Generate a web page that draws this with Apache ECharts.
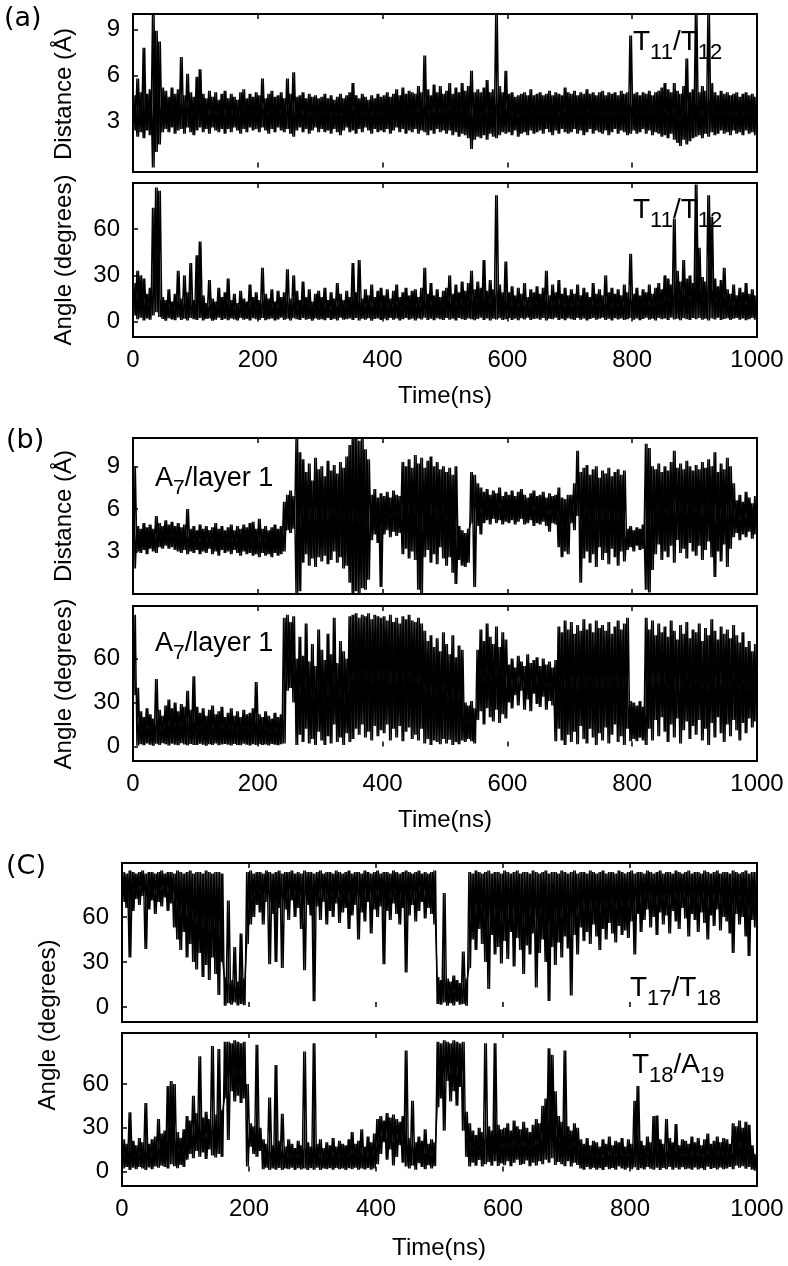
<!DOCTYPE html>
<html>
<head>
<meta charset="utf-8">
<script src="https://cdn.jsdelivr.net/npm/echarts@6/dist/echarts.min.js"></script>
<style>
  html, body { margin: 0; padding: 0; background: #fff; }
  #chart { width: 788px; height: 1266px; }
</style>
</head>
<body>
<div id="chart"></div>
<script>
// each series is stored as a low / high envelope per 5 ns bin
const BIN = 5;
const timeTicks = [0, 200, 400, 600, 800, 1000];
const distTicks = [3, 6, 9];
const angleTicks = [0, 30, 60];

// (a) T11/T12 distance
const a1Hi = [
  4.7, 5.8, 4.9, 7.8, 4.8, 5.1, 10, 8.9, 8.2, 5.2,
  5.0, 4.6, 5.2, 4.8, 5.1, 7.2, 4.7, 6.1, 4.9, 4.6,
  5.9, 6.4, 4.8, 4.5, 5.0, 4.6, 4.9, 4.4, 4.8, 5.0,
  4.5, 4.8, 4.6, 4.4, 4.9, 5.1, 4.5, 4.8, 4.6, 4.9,
  4.7, 5.8, 4.5, 4.8, 5.0, 4.6, 4.7, 4.9, 4.5, 5.8,
  4.8, 6.2, 4.6, 4.7, 4.9, 4.5, 4.8, 4.6, 4.7, 4.5,
  4.6, 4.8, 4.5, 4.7, 4.4, 4.6, 4.8, 4.5, 4.7, 4.9,
  5.5, 4.7, 4.5, 4.8, 4.6, 4.4, 4.7, 4.5, 4.8, 4.6,
  4.7, 4.9, 4.6, 4.8, 5.1, 4.7, 5.2, 4.8, 5.0, 4.9,
  4.8, 5.3, 4.9, 7.3, 5.1, 4.7, 5.4, 4.9, 5.3, 4.8,
  5.0, 5.5, 4.8, 5.2, 4.9, 5.5, 5.0, 5.3, 6.3, 4.9,
  5.1, 4.9, 5.2, 5.7, 4.9, 5.1, 10, 5.3, 4.9, 6.3,
  4.8, 4.9, 4.6, 4.7, 4.8, 4.9, 4.7, 5.1, 4.7, 4.8,
  4.9, 4.7, 4.8, 5.0, 4.7, 4.9, 4.8, 4.7, 5.2, 4.9,
  4.8, 5.0, 4.7, 4.9, 4.8, 5.1, 4.8, 4.9, 4.7, 4.9,
  5.0, 4.7, 4.9, 4.8, 4.9, 4.7, 5.0, 4.8, 4.9, 8.6,
  4.8, 4.9, 4.7, 4.9, 4.8, 5.0, 4.7, 4.9, 5.0, 5.2,
  5.5, 5.1, 4.9, 5.5, 5.0, 4.8, 5.3, 7.1, 4.9, 5.1,
  10, 4.9, 5.3, 5.0, 10, 5.5, 4.9, 4.7, 5.0, 4.8,
  4.9, 4.7, 4.8, 4.9, 4.6, 4.8, 4.9, 4.7, 4.8, 4.6
];
const a1Lo = [
  2.4, 2.0, 2.3, 1.9, 2.4, 2.1, 0, 1.0, 1.5, 2.3,
  2.5, 2.3, 2.6, 2.2, 2.4, 2.5, 2.2, 2.6, 2.3, 2.1,
  2.4, 2.6, 2.3, 2.5, 2.2, 2.6, 2.4, 2.3, 2.5, 2.2,
  2.5, 2.3, 2.6, 2.4, 2.2, 2.5, 2.3, 2.6, 2.4, 2.5,
  2.3, 2.6, 2.4, 2.2, 2.5, 2.3, 2.6, 2.4, 2.3, 2.5,
  2.2, 2.0, 2.4, 2.6, 2.3, 2.5, 2.2, 2.4, 2.6, 2.3,
  2.5, 2.3, 2.4, 2.2, 2.5, 2.3, 2.1, 2.4, 2.6, 2.3,
  2.4, 2.2, 2.5, 2.3, 2.6, 2.4, 2.2, 2.5, 2.3, 2.4,
  2.3, 2.5, 2.2, 2.4, 2.6, 2.3, 2.5, 2.2, 2.4, 2.3,
  2.5, 2.2, 2.4, 2.3, 2.1, 2.4, 2.2, 2.5, 2.3, 2.4,
  2.2, 2.4, 2.1, 2.3, 2.0, 2.2, 2.1, 1.9, 1.2, 1.8,
  2.0, 1.9, 2.1, 1.8, 2.2, 2.0, 1.9, 2.1, 2.3, 2.2,
  2.3, 2.1, 2.4, 2.0, 2.2, 2.3, 2.1, 2.4, 2.2, 2.3,
  2.4, 2.2, 2.5, 2.3, 2.1, 2.4, 2.2, 2.5, 2.3, 2.2,
  2.3, 2.5, 2.2, 2.4, 2.1, 2.3, 2.5, 2.2, 2.4, 2.3,
  2.2, 2.4, 2.1, 2.3, 2.5, 2.2, 2.4, 2.3, 2.1, 2.2,
  2.4, 2.2, 2.3, 2.5, 2.2, 2.4, 2.1, 2.3, 2.2, 2.0,
  2.1, 1.9, 2.2, 1.8, 1.6, 1.4, 1.8, 1.5, 1.7, 1.9,
  2.0, 2.1, 1.9, 2.2, 2.0, 2.3, 2.1, 2.2, 2.4, 2.2,
  2.3, 2.1, 2.4, 2.2, 2.3, 2.1, 2.4, 2.2, 2.3, 2.1
];

// (a) T11/T12 angle
const a2Hi = [
  25, 33, 30, 28, 18, 22, 74, 87, 85, 16,
  14, 21, 13, 18, 33, 15, 30, 19, 38, 14,
  43, 52, 17, 12, 27, 15, 13, 22, 16, 19,
  28, 14, 18, 12, 20, 15, 13, 24, 16, 19,
  14, 35, 18, 15, 21, 13, 20, 16, 19, 34,
  15, 30, 20, 14, 26, 16, 21, 13, 18, 20,
  16, 22, 14, 19, 15, 25, 18, 14, 20, 16,
  38, 19, 40, 15, 21, 17, 24, 16, 20, 22,
  17, 21, 15, 20, 24, 16, 19, 22, 17, 20,
  21, 16, 22, 35, 18, 25, 17, 21, 16, 20,
  22, 30, 18, 24, 19, 26, 20, 25, 33, 21,
  26, 22, 40, 20, 27, 21, 82, 24, 19, 39,
  19, 23, 17, 22, 18, 25, 16, 21, 19, 23,
  18, 22, 33, 17, 24, 19, 27, 18, 22, 17,
  21, 18, 24, 17, 22, 19, 16, 25, 18, 21,
  17, 30, 19, 22, 18, 21, 17, 24, 19, 44,
  18, 22, 17, 21, 19, 24, 18, 22, 25, 21,
  30, 28, 24, 67, 33, 26, 40, 28, 30, 25,
  89, 48, 29, 26, 82, 68, 28, 23, 27, 35,
  21, 18, 24, 17, 22, 19, 25, 18, 21, 17
];
const a2Lo = [
  4, 1.5, 2.5, 0.8, 2, 1.2, 4, 6, 3, 1.8,
  0.6, 2.2, 1.4, 0.9, 2.6, 1.1, 1.9, 0.7, 2.3, 1.5,
  1, 2.4, 0.8, 1.7, 2.1, 0.6, 1.3, 2.5, 1.1, 1.8,
  0.9, 2, 1.4, 0.7, 2.3, 1.2, 1.8, 0.8, 2.2, 1.5,
  1.1, 2.4, 0.9, 1.6, 2.1, 0.7, 1.4, 2.5, 1, 1.9,
  0.8, 2.2, 1.5, 1, 2.4, 1.2, 1.7, 0.6, 2, 1.3,
  1.6, 0.9, 2.3, 1.1, 1.8, 0.7, 2.5, 1.2, 1.5, 2,
  1, 2.4, 0.8, 1.9, 1.3, 2.2, 0.6, 1.7, 2.1, 1.1,
  1.8, 0.9, 2.4, 1.3, 2, 0.8, 1.6, 2.3, 1.2, 1.9,
  0.7, 2.1, 1.4, 2.5, 1, 1.8, 0.9, 2.2, 1.5, 1.1,
  2.3, 1.2, 1.9, 0.8, 2.4, 1.5, 1, 2.1, 1.6, 0.9,
  1.7, 2.5, 1.1, 2, 0.8, 1.9, 1.3, 2.2, 1, 1.6,
  2.4, 1.1, 1.8, 0.9, 2.2, 1.4, 2.6, 1, 1.7, 2.1,
  1.2, 2.3, 0.8, 1.9, 1.5, 2.5, 1.1, 1.8, 0.9, 2.2,
  1.6, 1, 2.4, 1.3, 2, 0.8, 1.7, 2.3, 1.2, 1.9,
  2.5, 1.1, 1.8, 0.7, 2.2, 1.4, 2, 1, 1.6, 2.4,
  1.3, 2.1, 0.9, 1.7, 2.5, 1.2, 1.9, 0.8, 2.3, 1.5,
  2, 1.1, 2.6, 1.4, 1.8, 0.9, 2.2, 1.6, 1, 2.4,
  1.5, 2.3, 1.2, 1.9, 0.8, 2.1, 1.4, 2.5, 1.1, 1.7,
  2.2, 1, 1.8, 2.4, 1.3, 2, 0.9, 1.6, 2.3, 1.2
];

// (b) A7/layer 1 distance
const b1Hi = [
  9.0, 4.8, 4.6, 5.0, 4.7, 4.9, 4.6, 5.5, 5.0, 4.8,
  5.2, 4.9, 5.1, 4.8, 5.0, 4.7, 4.9, 6.0, 4.6, 4.8,
  4.5, 4.9, 4.6, 4.8, 4.5, 4.7, 5.0, 4.6, 4.8, 4.5,
  4.7, 4.9, 4.5, 4.8, 4.6, 4.9, 4.7, 5.0, 5.1, 4.6,
  5.3, 4.6, 4.8, 4.5, 4.7, 4.9, 4.6, 4.8, 6.5, 7.0,
  7.3, 6.9, 11, 10, 9.5, 8.6, 9.2, 8.0, 9.6, 8.8,
  9.0, 8.3, 9.4, 8.7, 9.1, 8.5, 9.3, 8.9, 9.7, 10.5,
  11, 11, 10.8, 11, 10.2, 9.5, 7.0, 7.4, 6.8, 7.1,
  6.9, 7.2, 6.8, 7.3, 7.0, 6.9, 9.3, 9.0, 9.5, 8.9,
  9.8, 9.2, 9.6, 8.9, 9.4, 9.7, 9.0, 9.3, 8.8, 9.0,
  8.6, 8.9, 8.4, 9.0, 4.8, 4.5, 4.3, 4.6, 8.6, 8.4,
  7.8, 7.5, 7.2, 7.4, 7.0, 7.3, 7.1, 7.5, 6.9, 7.2,
  7.0, 7.3, 6.9, 7.2, 7.4, 7.0, 6.8, 7.1, 7.3, 6.9,
  7.0, 7.2, 6.8, 7.1, 6.9, 7.0, 7.5, 6.8, 6.7, 7.0,
  7.0, 7.8, 10.1, 8.6, 8.9, 9.1, 8.4, 8.8, 9.0, 8.2,
  8.7, 8.5, 8.9, 8.3, 8.6, 8.8, 8.4, 8.7, 4.6, 4.8,
  4.5, 4.7, 4.6, 4.9, 10.6, 10.3, 9.0, 8.8, 9.2, 8.6,
  9.0, 8.7, 9.3, 10.1, 8.9, 9.2, 8.8, 9.4, 9.0, 8.7,
  9.1, 8.8, 9.3, 8.9, 9.5, 9.0, 10.0, 8.6, 9.2, 8.8,
  9.6, 9.0, 7.8, 6.6, 7.0, 6.5, 7.2, 6.8, 6.4, 6.9
];
const b1Lo = [
  1.8, 3.0, 2.9, 3.1, 2.8, 3.2, 3.0, 2.9, 3.3, 3.2,
  3.4, 3.2, 3.3, 3.1, 3.0, 2.9, 3.1, 2.8, 3.0, 2.9,
  3.1, 2.8, 3.0, 2.9, 3.2, 2.8, 3.0, 2.7, 3.1, 2.9,
  3.0, 2.8, 3.1, 2.9, 2.7, 3.0, 2.8, 2.9, 2.7, 2.8,
  2.6, 2.9, 2.7, 2.8, 2.6, 2.9, 2.7, 2.8, 3.0, 4.5,
  4.3, 4.6, 0, 0.2, 2.2, 2.8, 2.0, 2.5, 1.9, 2.6,
  2.3, 2.7, 2.1, 2.4, 3.0, 2.2, 2.6, 1.8, 2.0, 0.8,
  0, 0.2, 0, 0.4, 0.3, 1.0, 3.8, 4.2, 3.6, 0.5,
  4.2, 4.5, 4.0, 4.4, 4.1, 4.3, 2.8, 3.2, 2.5, 3.0,
  2.4, 0.3, 0, 2.6, 3.1, 2.2, 2.8, 2.1, 3.3, 2.5,
  2.0, 2.6, 1.5, 0.7, 2.4, 2.0, 1.9, 2.2, 5.0, 0.5,
  4.8, 4.2, 5.0, 5.2, 4.9, 5.3, 5.0, 5.2, 4.9, 5.1,
  5.0, 5.2, 4.9, 5.1, 5.3, 4.9, 5.0, 5.2, 4.8, 5.0,
  4.9, 5.1, 4.8, 4.4, 5.0, 4.9, 3.3, 2.6, 3.0, 2.8,
  5.0, 4.5, 5.5, 0.8, 2.5, 3.0, 2.2, 2.8, 1.9, 3.3,
  2.4, 2.9, 2.1, 3.2, 2.6, 2.0, 3.0, 2.3, 3.1, 3.3,
  3.0, 3.4, 3.1, 3.2, 0.3, 0.1, 1.7, 2.8, 3.5, 2.4,
  3.0, 2.6, 3.4, 2.2, 3.8, 2.9, 3.2, 2.5, 3.6, 3.0,
  2.7, 3.4, 2.4, 3.1, 3.7, 2.6, 1.2, 3.0, 2.3, 3.5,
  1.9, 3.2, 4.0, 4.3, 3.8, 4.2, 4.0, 4.4, 3.9, 4.2
];

// (b) A7/layer 1 angle
const b2Hi = [
  90, 40, 24, 20, 26, 22, 19, 46, 25, 21,
  28, 32, 26, 30, 24, 29, 27, 38, 25, 48,
  27, 23, 26, 21, 25, 28, 22, 24, 27, 20,
  23, 26, 21, 24, 20, 25, 22, 23, 26, 44,
  22, 20, 24, 21, 19, 23, 20, 22, 88, 90,
  85, 89, 60, 75, 62, 84, 58, 70, 55, 80,
  66, 59, 77, 63, 88, 57, 72, 65, 60, 89,
  90, 91, 88, 90, 89, 91, 87, 90, 89, 88,
  89, 86, 90, 85, 88, 84, 89, 87, 90, 86,
  85, 88, 84, 79, 72, 76, 68, 74, 65, 78,
  70, 63, 76, 61, 69, 66, 30, 28, 31, 26,
  66, 80, 72, 84, 75, 70, 82, 68, 78, 73,
  56, 60, 54, 62, 58, 55, 63, 57, 59, 61,
  55, 60, 56, 58, 54, 59, 82, 78, 86, 80,
  85, 77, 83, 79, 87, 80, 84, 78, 86, 81,
  83, 79, 85, 77, 82, 86, 80, 84, 88, 31,
  30, 28, 31, 27, 88, 80, 86, 76, 84, 78,
  82, 75, 86, 79, 73, 83, 77, 85, 74, 80,
  78, 84, 72, 81, 76, 87, 79, 73, 82, 77,
  80, 74, 83, 76, 71, 78, 68, 72, 65, 70
];
const b2Lo = [
  35, 0.5, 1.5, 0.8, 2.0, 1.2, 0.5, 1.8, 1.0, 2.2,
  1.4, 0.6, 1.9, 1.1, 0.8, 2.1, 1.3, 0.7, 1.6, 1.0,
  0.9, 1.8, 1.2, 0.5, 1.5, 1.0, 2.0, 0.8, 1.3, 1.7,
  1.1, 0.6, 1.6, 1.0, 0.8, 1.9, 1.2, 0.7, 1.4, 1.0,
  1.5, 0.9, 1.3, 0.6, 1.7, 1.1, 0.8, 1.4, 2.0, 38,
  40, 30, 1, 8, 3, 12, 2, 5, 1, 10,
  4, 1, 7, 2, 15, 3, 6, 1, 9, 3,
  5, 12, 8, 15, 6, 10, 4, 14, 7, 11,
  9, 15, 4, 12, 6, 14, 3.5, 10, 13, 5,
  8, 4, 12, 2, 5, 1, 4, 3, 1.5, 5,
  2, 4.5, 1, 3, 1.5, 4, 3, 5, 3.5, 2,
  18, 24, 15, 26, 20, 17, 25, 16, 22, 19,
  30, 26, 35, 28, 38, 25, 32, 24, 36, 29,
  27, 34, 25, 31, 28, 3.5, 12, 4, 1, 8,
  3, 10, 1.5, 14, 5, 2, 12, 6, 1, 9,
  4, 13, 2, 8, 15, 3, 7, 1, 12, 3.5,
  5, 3.5, 6, 4, 1, 12, 4, 18, 7, 20,
  10, 3, 15, 6, 19, 2, 11, 17, 5, 14,
  8, 18, 4, 12, 1, 16, 6, 20, 9, 3,
  15, 7, 18, 11, 4, 16, 9, 19, 13, 17
];

// (C) T17/T18 angle
const c1Hi = [
  90, 89, 91, 90, 89, 90, 91, 89, 90, 90,
  89, 90, 91, 89, 90, 90, 89, 91, 90, 89,
  90, 91, 89, 90, 90, 89, 91, 90, 89, 90,
  90, 89, 20, 71, 18, 40, 17, 49, 19, 90,
  91, 89, 90, 90, 89, 91, 90, 89, 90, 91,
  89, 90, 90, 91, 89, 90, 89, 91, 90, 90,
  89, 90, 91, 89, 90, 90, 89, 91, 90, 89,
  90, 91, 89, 90, 90, 89, 91, 90, 89, 90,
  91, 89, 90, 90, 89, 91, 90, 89, 90, 91,
  90, 89, 90, 91, 89, 90, 89, 90, 91, 20,
  18, 76, 19, 17, 21, 18, 16, 37, 19, 90,
  89, 91, 90, 89, 90, 91, 89, 90, 90, 89,
  91, 90, 89, 90, 91, 89, 90, 90, 89, 91,
  90, 89, 90, 91, 89, 90, 90, 89, 91, 90,
  89, 90, 91, 89, 90, 90, 89, 91, 90, 89,
  90, 91, 89, 90, 90, 89, 91, 90, 89, 90,
  91, 89, 90, 90, 89, 91, 90, 89, 90, 91,
  89, 90, 90, 89, 91, 90, 89, 90, 91, 89,
  90, 90, 89, 91, 90, 89, 90, 91, 89, 90,
  90, 89, 91, 90, 89, 90, 91, 89, 90, 90
];
const c1Lo = [
  70, 66, 33, 64, 72, 68, 74, 38.6, 65, 71,
  62, 70, 67, 73, 64, 69, 53, 45, 38, 50,
  33, 42, 30, 25, 36, 20, 28, 18, 33, 22,
  8, 30, 0.8, 2.5, 1.5, 3, 1, 2, 1.2, 42,
  55, 60, 68, 63, 55, 70, 28.5, 62, 30, 66,
  26, 65, 58, 71, 60, 66, 52, 24.5, 68, 61,
  3.8, 67, 58, 70, 55, 64, 60, 69, 56, 63,
  66, 52, 61, 68, 45, 63, 57, 70, 49, 65,
  60, 67, 28.5, 64, 58, 69, 62, 55, 66, 23,
  61, 68, 57, 64, 70, 59, 66, 62, 55, 2,
  1.5, 3, 0.8, 2.5, 1, 3.5, 1.5, 2, 0.8, 26,
  45, 38, 52, 42, 30, 12, 48, 35, 40, 29,
  44, 32, 50, 27, 46, 38, 22, 41, 35, 49,
  13, 36, 45, 30, 4, 40, 28, 43, 33, 47,
  39, 7.7, 48, 35, 53, 44, 50, 42, 55, 47,
  38, 52, 45, 56, 49, 43, 54, 48, 51, 46,
  57, 35, 62, 50, 58, 65, 53, 60, 48, 63,
  55, 61, 49, 64, 57, 52, 66, 59, 47, 62,
  58, 50, 63, 56, 45, 61, 54, 65, 51, 60,
  57, 49, 36, 62, 55, 60, 47, 34, 58, 53
];

// (C) T18/A19 angle
const c2Hi = [
  22, 19, 40.6, 21, 18, 23, 20, 47, 19, 22,
  24, 36, 26, 28, 58.7, 62, 60, 27, 23, 29,
  38, 35, 52, 40, 79, 37, 41, 36, 86, 39,
  84, 42, 89, 89, 88, 90, 89, 88, 89, 60,
  33, 31, 87, 30, 22, 19, 50.7, 18, 73, 21,
  39.5, 17, 22, 19, 16, 21, 18, 82.3, 20, 17,
  87.9, 19, 22, 16, 20, 18, 23, 17, 21, 19,
  18, 22, 27, 19, 21, 29, 17, 24, 20, 26,
  36, 38, 35, 40, 37, 39, 36, 34, 38, 83,
  23, 48.5, 20, 24, 21, 29, 19, 22, 20, 89,
  88, 90, 89, 88, 90, 89, 88, 89, 41, 33,
  28, 25, 30, 27, 87.9, 31, 28, 87.9, 32, 29,
  30, 33, 28, 35, 31, 29, 34, 30, 27, 32,
  36, 33, 45, 50, 84.6, 80, 55, 38, 34, 83,
  31, 28, 33, 30, 22, 19, 23, 18, 21, 20,
  17, 22, 19, 24, 18, 21, 20, 23, 17, 22,
  19, 48.5, 58.7, 21, 18, 24, 20, 38, 38.4, 22,
  19, 36, 23, 20, 32.6, 18, 22, 21, 19, 24,
  20, 23, 18, 22, 26, 19, 21, 24, 20, 23,
  22, 19, 33, 31, 35, 30, 34, 32, 18, 12
];
const c2Lo = [
  2, 3, 1, 2.5, 1.5, 3, 2, 1, 2.8, 1.6,
  3.4, 2.5, 4, 3, 2, 5, 3.5, 2.2, 4.5, 3,
  8, 12, 9, 14, 10, 13, 8.5, 15, 11, 9.5,
  12, 10, 50, 21.5, 55, 48, 52, 47, 50, 3.4,
  17, 12, 10, 14, 1.5, 2.5, 1, 2, 1.2, 2.4,
  1, 2, 1.5, 2.5, 1.1, 2.2, 1.4, 2, 1, 2.3,
  1.2, 2.5, 1, 2, 1.6, 2.3, 1.1, 2.4, 1.5, 2,
  1, 2.2, 1.5, 2.5, 1.2, 2, 1.4, 2.3, 1.1, 2.1,
  5, 12, 20, 8, 15, 4, 10, 18, 6, 3.4,
  2, 4, 1.1, 5.7, 3, 1.5, 4.2, 2, 3.5, 44,
  50, 28, 62, 48, 55, 45, 58, 28, 10, 3.4,
  6, 4, 7.9, 3.4, 5, 6.5, 4, 7, 3.8, 5.5,
  4.2, 7, 3.5, 6, 8, 4.5, 5.2, 7.5, 3.6, 6,
  4, 7, 5, 8, 6, 9, 4.5, 6.5, 5, 3.6,
  7, 3.4, 6, 4.5, 2, 1.1, 3, 1.5, 2.5, 1.2,
  2.2, 1, 3, 1.6, 2.4, 1.2, 3.4, 2, 1.1, 2.6,
  1.5, 2.8, 1, 2.2, 1.4, 3, 1.8, 1.2, 2.5, 1,
  2.3, 1.5, 3.1, 1.1, 2.6, 1.3, 2.9, 1.6, 2.1, 1.2,
  2.7, 1.4, 2.2, 1, 3.2, 1.7, 2.4, 1.3, 2.8, 1.5,
  2, 3, 1.5, 4, 2.5, 3.5, 1.8, 3, 1.2, 0.5
];

const FONT = '"Liberation Sans", Arial, sans-serif';

// zigzag through each bin's low and high; phase picks low-first or high-first
function trace(lo, hi, phase) {
  const out = [];
  lo.forEach((v, i) => {
    const a = phase ? hi[i] : v;
    const b = phase ? v : hi[i];
    out.push([i * BIN + 1.25, a]);
    out.push([i * BIN + 3.75, b]);
  });
  return out;
}

const panels = [
  { left: 133, top: 14, height: 158, min: -0.3, max: 10, ticks: distTicks, lo: a1Lo, hi: a1Hi, xLabels: false },
  { left: 133, top: 183, height: 154, min: -10, max: 90, ticks: angleTicks, lo: a2Lo, hi: a2Hi, xLabels: true },
  { left: 133, top: 438, height: 156, min: 0, max: 11, ticks: distTicks, lo: b1Lo, hi: b1Hi, xLabels: false },
  { left: 133, top: 606, height: 155, min: -10, max: 96, ticks: angleTicks, lo: b2Lo, hi: b2Hi, xLabels: true },
  { left: 122, top: 863, height: 159, min: -10, max: 96, ticks: angleTicks, lo: c1Lo, hi: c1Hi, xLabels: false },
  { left: 122, top: 1033, height: 153, min: -10, max: 95, ticks: angleTicks, lo: c2Lo, hi: c2Hi, xLabels: true }
];

const tickStyle = { show: true, inside: true, length: 5, lineStyle: { color: '#000', width: 1.5 } };
const labelStyle = { color: '#000', fontFamily: FONT, fontSize: 24 };

const grid = [], xAxis = [], yAxis = [], series = [];
panels.forEach((p, i) => {
  grid.push({
    left: p.left, right: 31, top: p.top, height: p.height,
    show: true, borderColor: '#000', borderWidth: 2, backgroundColor: 'transparent'
  });
  xAxis.push({
    type: 'value', gridIndex: i, min: 0, max: 1000, interval: 200, position: 'bottom',
    axisLine: { show: false }, splitLine: { show: false },
    axisTick: tickStyle,
    axisLabel: Object.assign({
      show: p.xLabels, margin: 11, showMinLabel: true, showMaxLabel: true,
      customValues: timeTicks, formatter: (v) => String(v)
    }, labelStyle)
  });
  xAxis.push({
    type: 'value', gridIndex: i, min: 0, max: 1000, interval: 200, position: 'top',
    axisLine: { show: false }, splitLine: { show: false },
    axisTick: tickStyle, axisLabel: { show: false }
  });
  yAxis.push({
    type: 'value', gridIndex: i, min: p.min, max: p.max,
    axisLine: { show: false }, splitLine: { show: false },
    axisTick: Object.assign({ customValues: p.ticks }, tickStyle),
    axisLabel: Object.assign({ customValues: p.ticks, margin: 13 }, labelStyle)
  });
  [0, 1].forEach((phase) => {
    series.push({
      type: 'line', xAxisIndex: i * 2, yAxisIndex: i,
      data: trace(p.lo, p.hi, phase),
      showSymbol: false, symbol: 'none', silent: true, clip: true,
      lineStyle: { color: '#000', width: 1.4 },
      animation: false
    });
  });
});

// text with subscripts, placed piece by piece
const meas = document.createElement('canvas').getContext('2d');
function subLabel(x, base, parts, size, subSize) {
  const els = [];
  let cx = x;
  parts.forEach(([s, sub]) => {
    const fs = sub ? subSize : size;
    const font = fs + 'px ' + FONT;
    meas.font = font;
    const y = (sub ? base + 8 : base) - 0.33 * fs;
    els.push({ type: 'text', x: cx, y: y, style: { text: s, font: font, fill: '#000', textAlign: 'left', textVerticalAlign: 'middle' } });
    cx += meas.measureText(s).width;
  });
  return els;
}

function plain(x, y, text, size, opts) {
  opts = opts || {};
  return {
    type: 'text', x: x, y: y, rotation: opts.rot || 0,
    style: {
      text: text, font: size + 'px ' + (opts.family || FONT), fill: '#000',
      textAlign: opts.align || 'center', textVerticalAlign: 'middle'
    }
  };
}

const graphic = [
  plain(4, 19, '(a)', 27, { align: 'left', family: '"DejaVu Sans"' }),
  plain(6, 441, '(b)', 27, { align: 'left', family: '"DejaVu Sans"' }),
  plain(6, 867, '(C)', 27, { align: 'left', family: '"DejaVu Sans"' }),
  plain(64, 94, 'Distance (Å)', 24, { rot: Math.PI / 2 }),
  plain(64, 260, 'Angle (degrees)', 24, { rot: Math.PI / 2 }),
  plain(64, 516, 'Distance (Å)', 24, { rot: Math.PI / 2 }),
  plain(64, 684, 'Angle (degrees)', 24, { rot: Math.PI / 2 }),
  plain(48, 1025, 'Angle (degrees)', 24, { rot: Math.PI / 2 }),
  plain(445, 396, 'Time(ns)', 24),
  plain(445, 820, 'Time(ns)', 24),
  plain(439, 1248, 'Time(ns)', 24)
].concat(
  subLabel(633, 52, [['T', 0], ['11', 1], ['/', 0], ['T', 0], ['12', 1]], 28, 22),
  subLabel(633, 220, [['T', 0], ['11', 1], ['/', 0], ['T', 0], ['12', 1]], 28, 22),
  subLabel(155, 487, [['A', 0], ['7', 1], ['/layer 1', 0]], 27, 21),
  subLabel(155, 652, [['A', 0], ['7', 1], ['/layer 1', 0]], 27, 21),
  subLabel(630, 998, [['T', 0], ['17', 1], ['/', 0], ['T', 0], ['18', 1]], 28, 22),
  subLabel(632, 1075, [['T', 0], ['18', 1], ['/', 0], ['A', 0], ['19', 1]], 28, 22)
);

const chart = echarts.init(document.getElementById('chart'), null, { renderer: 'canvas' });
chart.setOption({
  backgroundColor: '#fff',
  animation: false,
  grid: grid,
  xAxis: xAxis,
  yAxis: yAxis,
  series: series,
  graphic: graphic
});
</script>
</body>
</html>
